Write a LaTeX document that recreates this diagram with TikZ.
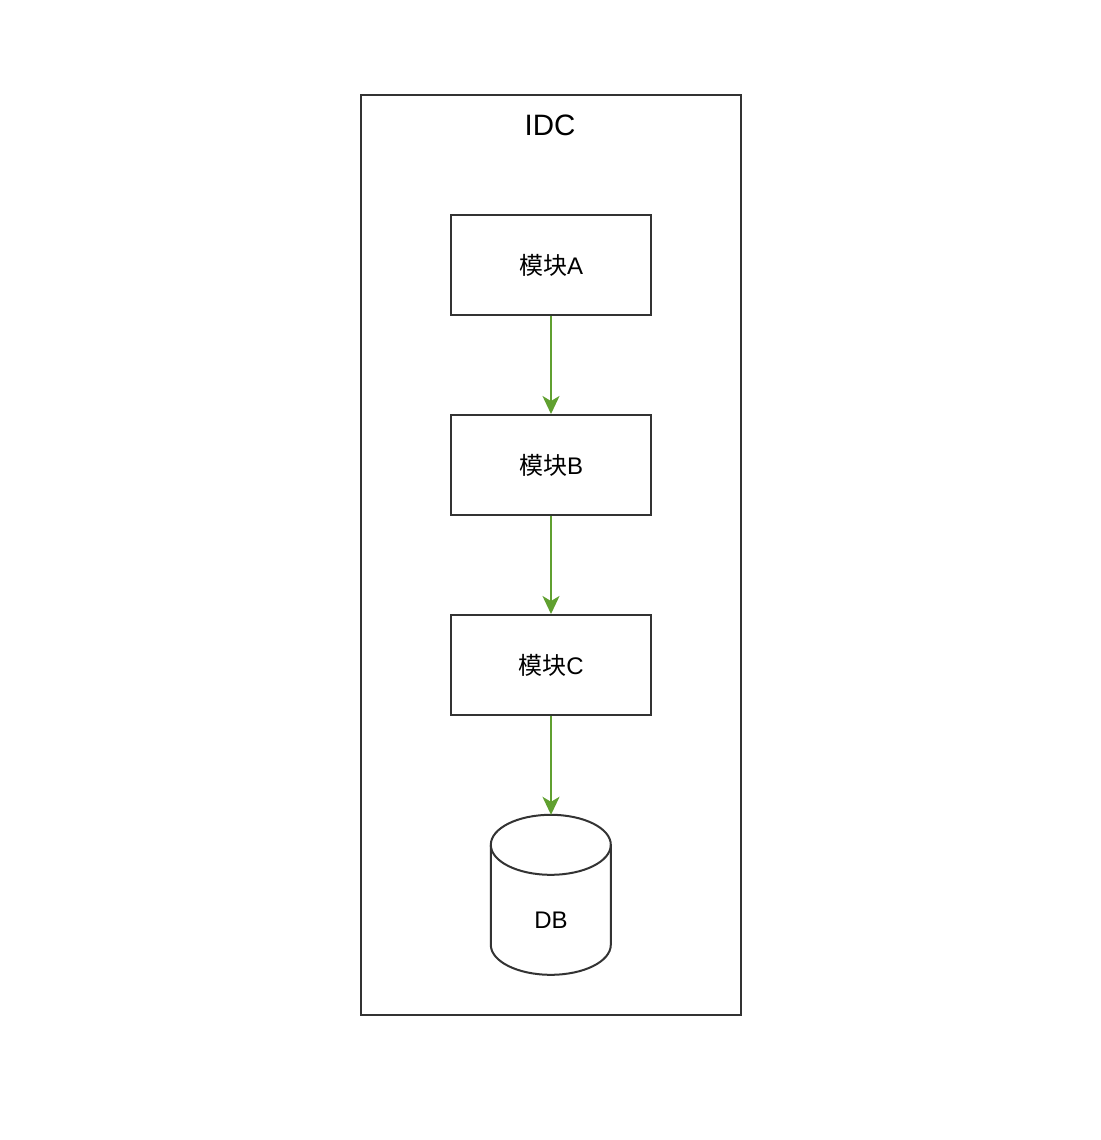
\documentclass[tikz,border=0pt]{standalone}
\usepackage{fontspec}
\setmainfont{Liberation Sans}
\newfontfamily\cjk{Noto Sans CJK SC}
\usetikzlibrary{arrows.meta}
\definecolor{edgegray}{HTML}{333333}
\definecolor{arrowgreen}{HTML}{60A030}
\tikzset{
  modbox/.style={draw=edgegray, line width=2pt, minimum width=200pt, minimum height=100pt, inner sep=0pt, font=\fontsize{24pt}{28pt}\selectfont},
  flow/.style={draw=arrowgreen, line width=2pt, -{Stealth[inset=5pt, length=18pt, width=17pt]}},
}
\begin{document}
\begin{tikzpicture}[x=1pt, y=-1pt]
\useasboundingbox[fill=white] (0,0) rectangle (1100,1140);
\node[draw=edgegray, line width=2pt, minimum width=380pt, minimum height=920pt, inner sep=0pt] (idc) at (551,555) {};
\node[font=\fontsize{29.5pt}{34pt}\selectfont] (idclabel) at (550,125) {IDC};
\node[modbox] (a) at (551,265) {{\cjk 模块}A};
\node[modbox] (b) at (551,465) {{\cjk 模块}B};
\node[modbox] (c) at (551,665) {{\cjk 模块}C};
\node[minimum width=120pt, minimum height=160pt, inner sep=0pt] (db) at (551,895) {};
\draw[edgegray, line width=2pt, fill=white]
  (db.north west) ++(0,30) arc[start angle=180, end angle=0, x radius=60, y radius=-30]
  -- ++(0,100) arc[start angle=0, end angle=-180, x radius=60, y radius=-30] -- cycle;
\draw[edgegray, line width=2pt]
  (db.north west) ++(0,30) arc[start angle=180, end angle=360, x radius=60, y radius=-30];
\node[font=\fontsize{24pt}{28pt}\selectfont] (dblabel) at (551,920) {DB};
\draw[flow] (a.south) -- (b.north);
\draw[flow] (b.south) -- (c.north);
\draw[flow] (c.south) -- (db.north);
\end{tikzpicture}
\end{document}
